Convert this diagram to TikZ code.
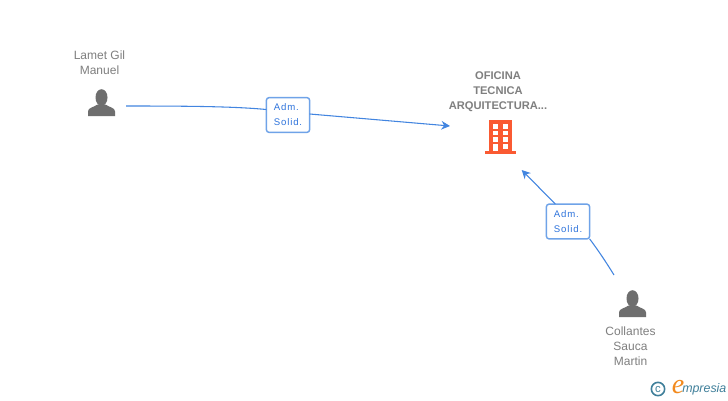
\documentclass[tikz,border=0pt]{standalone}
\usepackage{fontspec}
\setmainfont{Liberation Sans}
\newfontfamily\badgefont[LetterSpace=9]{Liberation Sans}
\newfontfamily\logoserif{Liberation Serif}
\definecolor{txtgrey}{HTML}{7F7F7F}
\definecolor{icongrey}{HTML}{6E6E6E}
\definecolor{edgeblue}{HTML}{4285E0}
\definecolor{badgeline}{HTML}{6FA3E8}
\definecolor{badgetxt}{HTML}{2F74DC}
\definecolor{bldg}{HTML}{FA5A32}
\definecolor{logoteal}{HTML}{3F7F9A}
\definecolor{logoorange}{HTML}{F28A1E}
\tikzset{
  x=0.75pt,y=-0.75pt,
  namelabel/.style={align=center,text=txtgrey,font=\fontsize{9}{11.25}\selectfont,inner sep=0pt},
  titlelabel/.style={align=center,text=txtgrey,font=\fontsize{8.35}{11.25}\selectfont\bfseries,inner sep=0pt},
  iconbox/.style={inner sep=0pt,outer sep=0pt,minimum width=20.25pt,minimum height=20.25pt},
  buildingbox/.style={inner sep=0pt,outer sep=0pt,minimum width=24pt,minimum height=25.5pt},
  badge/.style={draw=badgeline,line width=1.1pt,rounded corners=2.2pt,fill=white,text=badgetxt,
    align=left,inner sep=0pt,outer sep=0pt,minimum width=32.5pt,minimum height=26.2pt,
    font=\fontsize{7.2}{11.25}\badgefont},
  edge/.style={draw=edgeblue,line width=0.8pt},
  tip/.style={-{Stealth[length=6.5pt,width=6.5pt]}},
  person/.pic={
    \fill[icongrey] (0,-5) ellipse (6 and 8.3);
    \fill[icongrey] (-13.5,13.5) -- (-13.5,9)
      .. controls (-13.5,5) and (-8,5) .. (-4,2)
      -- (4,2)
      .. controls (8,5) and (13.5,5) .. (13.5,9)
      -- (13.5,13.5) -- cycle;
  }
}
\usetikzlibrary{arrows.meta,calc}
\begin{document}
\begin{tikzpicture}
\path[use as bounding box,fill=white] (0,0) rectangle (728,400);

% people
\node[iconbox] (p1) at (101.5,102.5) {};
\pic at (101.5,102.5) {person};
\node[namelabel] (p1name) at (99.5,62.5) {Lamet Gil\\Manuel};

\node[iconbox] (p2) at (632.5,303.5) {};
\pic at (632.5,303.5) {person};
\node[namelabel] (p2name) at (630.5,346) {Collantes\\Sauca\\Martin};

% company
\node[buildingbox] (b) at (500,137) {};
\fill[bldg] (489,120) rectangle (511.5,151);
\fill[bldg] (484.5,150.5) rectangle (516,153.7);
\foreach \yy in {124,130.7,137.3}{
  \fill[white] (493,\yy) rectangle +(5,4.5);
  \fill[white] (502.5,\yy) rectangle +(5,4.5);
}
\fill[white] (493,143.5) rectangle (498,151);
\fill[white] (502.5,143.5) rectangle (507.5,148.5);
\node[titlelabel] (bname) at (498,92) {OFICINA\\TECNICA\\ARQUITECTURA...};

% badges
\node[badge] (a1) at (288,115) {Adm.\\Solid.};
\node[badge] (a2) at (568,221.5) {Adm.\\Solid.};

% connectors
\draw[edge] ($(p1.east)+(11,3.5)$) .. controls (190,106) and (235,106.5) .. (a1.west |- 0,109.5);
\draw[edge,tip] (a1.east |- 0,114) -- ($(b.west)+(-34,-11)$);
\draw[edge] ($(p2.north)+(-18.5,-15)$) .. controls (606,262) and (598,250) .. (a2.south east);
\draw[edge,tip] (a2.north west) ++(9,0) -- ($(b.south east)+(5.7,16)$);

% logo
\node[circle,draw=logoteal,line width=1.2pt,minimum size=10pt,inner sep=0pt,text=logoteal,
  font=\fontsize{8.5}{8.5}\selectfont] (c) at (658,389) {c};
\node[inner sep=0pt,text=logoorange,font=\fontsize{21}{21}\logoserif\itshape,anchor=base] (le) at (678,393.5) {e};
\node[inner sep=0pt,text=logoteal,font=\fontsize{9.3}{10}\selectfont\itshape,anchor=base west] (lm) at (682,392.5) {mpresia};
\end{tikzpicture}
\end{document}
